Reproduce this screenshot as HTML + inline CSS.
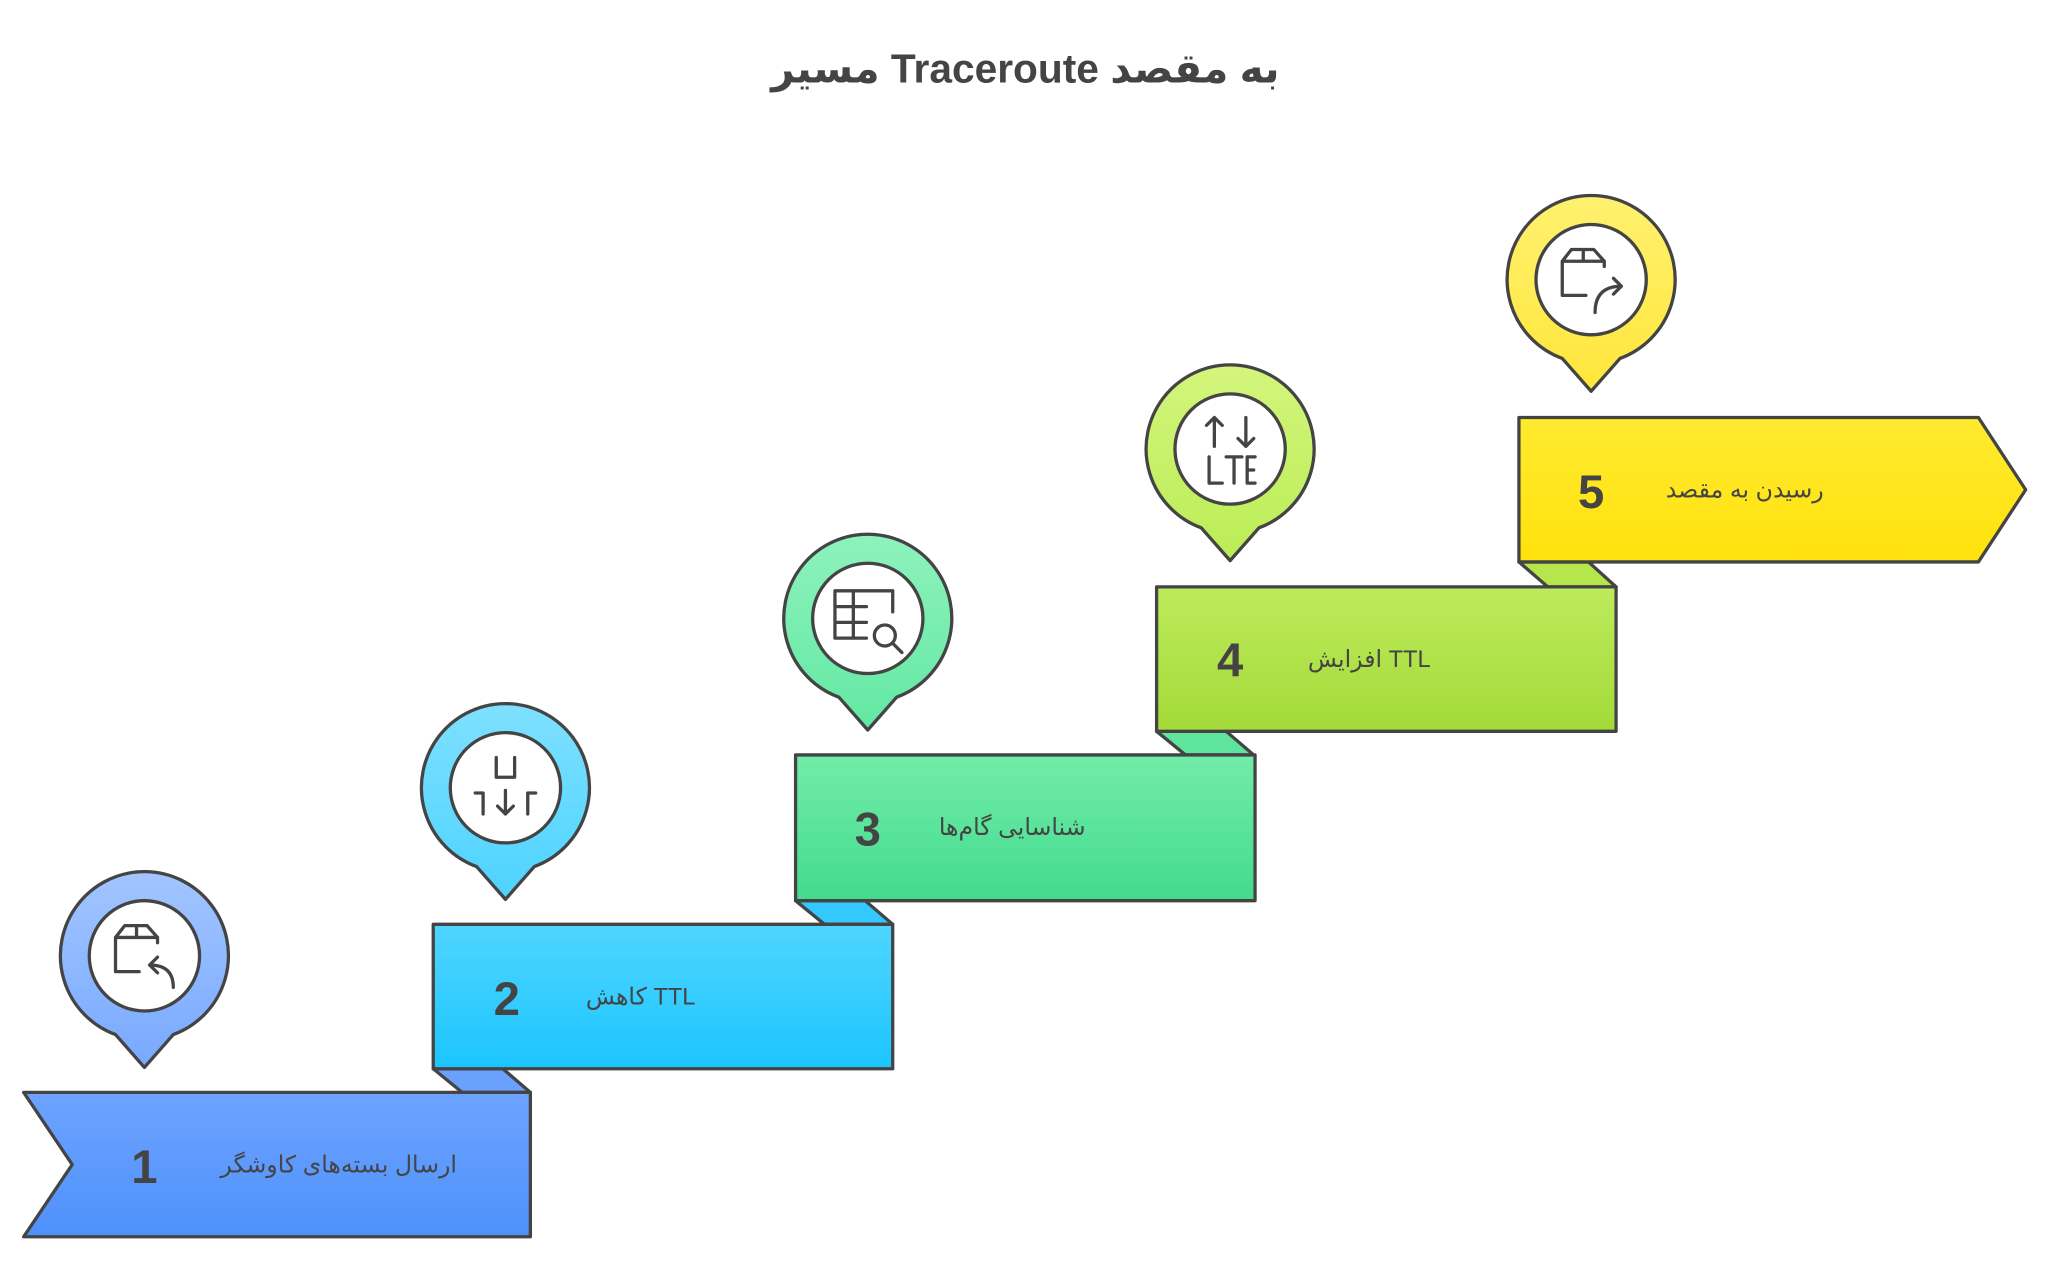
<!DOCTYPE html>
<html><head><meta charset="utf-8"><style>
html,body{margin:0;padding:0;background:#fff;}
svg{display:block}
text{font-family:"Liberation Sans","DejaVu Sans",sans-serif;fill:#444}
</style></head><body>
<svg width="2048" height="1288" viewBox="0 0 1560 981" preserveAspectRatio="none" xmlns="http://www.w3.org/2000/svg">
<defs>
<linearGradient id="g1" x1="0" y1="0" x2="0" y2="1"><stop offset="0" stop-color="#6da3ff"/><stop offset="1" stop-color="#4e91fb"/></linearGradient>
<linearGradient id="p1" x1="0" y1="0" x2="0" y2="1"><stop offset="0" stop-color="#a2c5ff"/><stop offset="1" stop-color="#78a9ff"/></linearGradient>
<linearGradient id="g2" x1="0" y1="0" x2="0" y2="1"><stop offset="0" stop-color="#4fd5ff"/><stop offset="1" stop-color="#1cc5ff"/></linearGradient>
<linearGradient id="p2" x1="0" y1="0" x2="0" y2="1"><stop offset="0" stop-color="#7fe0ff"/><stop offset="1" stop-color="#4dd3ff"/></linearGradient>
<linearGradient id="g3" x1="0" y1="0" x2="0" y2="1"><stop offset="0" stop-color="#72eca9"/><stop offset="1" stop-color="#42db8e"/></linearGradient>
<linearGradient id="p3" x1="0" y1="0" x2="0" y2="1"><stop offset="0" stop-color="#8ef2bd"/><stop offset="1" stop-color="#62e8a2"/></linearGradient>
<linearGradient id="g4" x1="0" y1="0" x2="0" y2="1"><stop offset="0" stop-color="#bdeb5c"/><stop offset="1" stop-color="#a3da38"/></linearGradient>
<linearGradient id="p4" x1="0" y1="0" x2="0" y2="1"><stop offset="0" stop-color="#d3f57c"/><stop offset="1" stop-color="#bbed56"/></linearGradient>
<linearGradient id="g5" x1="0" y1="0" x2="0" y2="1"><stop offset="0" stop-color="#ffea30"/><stop offset="1" stop-color="#ffe20c"/></linearGradient>
<linearGradient id="p5" x1="0" y1="0" x2="0" y2="1"><stop offset="0" stop-color="#fff170"/><stop offset="1" stop-color="#ffe63a"/></linearGradient>
</defs>
<text x="781" y="63" text-anchor="middle" font-size="31" font-weight="bold">مسیر Traceroute به مقصد</text>

<g stroke="#444" stroke-width="2.5" stroke-linejoin="round">
<polygon points="330,814 383,814 404,832 352,832" fill="#6aa0fe"/>
<polygon points="606,686 659,686 680,704 628,704" fill="#33c9ff"/>
<polygon points="881,557 934,557 955,575 903,575" fill="#5ee49c"/>
<polygon points="1157,428 1210,428 1231,447 1179,447" fill="#b5e64c"/>

<polygon points="18,832 404,832 404,942 18,942 55,887" fill="url(#g1)"/>
<rect x="330" y="704" width="350" height="110" fill="url(#g2)"/>
<rect x="606" y="575" width="350" height="111" fill="url(#g3)"/>
<rect x="881" y="447" width="350" height="110" fill="url(#g4)"/>
<polygon points="1157,318 1507,318 1543,373 1507,428 1157,428" fill="url(#g5)"/>

<path d="M88,788 A64 64 0 1 1 132,788 L110,813 Z" fill="url(#p1)"/>
<circle cx="110" cy="728" r="42" fill="#fff"/>
<path d="M363,660 A64 64 0 1 1 407,660 L385,685 Z" fill="url(#p2)"/>
<circle cx="385" cy="600" r="42" fill="#fff"/>
<path d="M639,531 A64 64 0 1 1 683,531 L661,556 Z" fill="url(#p3)"/>
<circle cx="661" cy="471" r="42" fill="#fff"/>
<path d="M915,402 A64 64 0 1 1 959,402 L937,427 Z" fill="url(#p4)"/>
<circle cx="937" cy="342" r="42" fill="#fff"/>
<path d="M1190,273 A64 64 0 1 1 1234,273 L1212,298 Z" fill="url(#p5)"/>
<circle cx="1212" cy="213" r="42" fill="#fff"/>
</g>

<g fill="none" stroke="#444" stroke-width="2.5" stroke-linecap="round" stroke-linejoin="round">
<path d="M106,740 H88 V714 L95,705 H112 L120,714 V718 M88,714 H120 M104,705 V714"/>
<path d="M132,752 Q132,735 114,735 M120,729 L114,735 L120,741"/>
<path d="M378,577 V592 H392 V577 M362,604 H368 V620 M408,604 H402 V620 M385,602 V620 M379,614 L385,620 L391,614"/>
<path d="M636,450 H680 V466 M636,450 V486 H660 M636,462 H660 M650,450 V486 M636,474 H660"/>
<circle cx="674" cy="484" r="8"/><path d="M680,490 L687,497"/>
<path d="M925,340 V318 M919,324 L925,318 L931,324 M949,318 V340 M943,334 L949,340 L955,334 M921,348 V368 H931 M934,348 H946 M940,348 V368 M956,348 H950 V368 H956 M950,358 H955"/>
<path d="M1208,225 H1190 V199 L1197,190 H1214 L1222,199 V203 M1190,199 H1222 M1206,190 V199"/>
<path d="M1215,238 Q1215,218 1235,218 M1229,212 L1235,218 L1229,224"/>
</g>

<g font-weight="bold" font-size="36" text-anchor="middle">
<text x="110" y="901">1</text>
<text x="386" y="773">2</text>
<text x="661" y="644">3</text>
<text x="937" y="515">4</text>
<text x="1212" y="387">5</text>
</g>
<g font-size="18" text-anchor="middle">
<text x="258" y="893">ارسال بسته‌های کاوشگر</text>
<text x="488" y="765">کاهش TTL</text>
<text x="771" y="636">شناسایی گام‌ها</text>
<text x="1043" y="508">افزایش TTL</text>
<text x="1329" y="379">رسیدن به مقصد</text>
</g>
</svg>
</body></html>
